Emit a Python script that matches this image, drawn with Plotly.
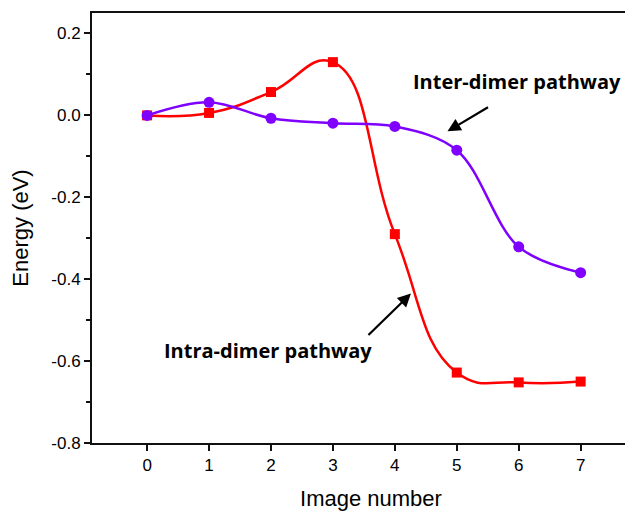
import plotly.graph_objects as go

images = [0, 1, 2, 3, 4, 5, 6, 7]
intra_dimer = [0.0, 0.006, 0.057, 0.130, -0.290, -0.628, -0.652, -0.650]
inter_dimer = [0.0, 0.032, -0.007, -0.019, -0.027, -0.085, -0.321, -0.384]
x_ticks = [0, 1, 2, 3, 4, 5, 6, 7]
y_ticks = [-0.8, -0.6, -0.4, -0.2, 0.0, 0.2]
y_tick_labels = ["-0.8", "-0.6", "-0.4", "-0.2", "0.0", "0.2"]

RED = "#FF0000"
PURPLE = "#7F00FF"
FAM = "Arial, 'Liberation Sans', sans-serif"

fig = go.Figure()
fig.add_trace(go.Scatter(
    x=images, y=intra_dimer, mode="lines+markers",
    line=dict(color=RED, width=2.5, shape="spline", smoothing=1.3),
    marker=dict(symbol="square", size=10, color=RED),
    name="Intra-dimer pathway", showlegend=False))
fig.add_trace(go.Scatter(
    x=images, y=inter_dimer, mode="lines+markers",
    line=dict(color=PURPLE, width=2.5, shape="spline", smoothing=1.0),
    marker=dict(symbol="circle", size=11, color=PURPLE),
    name="Inter-dimer pathway", showlegend=False))

ann_font = dict(family="'Open Sans', sans-serif", size=20, color="black")
fig.add_annotation(x=5.97, y=0.082, text="<b>Inter-dimer pathway</b>", showarrow=False, font=ann_font)
fig.add_annotation(x=1.95, y=-0.574, text="<b>Intra-dimer pathway</b>", showarrow=False, font=ann_font)
fig.add_annotation(x=4.85, y=-0.039, ax=42, ay=-25, text="", showarrow=True,
                   arrowhead=2, arrowsize=1.2, arrowwidth=2.2, arrowcolor="black")
fig.add_annotation(x=4.26, y=-0.435, ax=-44, ay=43, text="", showarrow=True,
                   arrowhead=2, arrowsize=1.2, arrowwidth=2.2, arrowcolor="black")

tick_font = dict(family=FAM, size=17, color="black")
title_font = dict(family=FAM, size=22, color="black")
fig.update_layout(
    width=650, height=511,
    margin=dict(l=84, r=8, t=3, b=76),
    paper_bgcolor="white", plot_bgcolor="white",
    font=tick_font,
    xaxis=dict(range=[-0.89, 8.12], tickvals=x_ticks, ticks="outside", ticklen=6, tickwidth=2,
               tickcolor="#111", showline=True, linecolor="#111", linewidth=2, mirror=True,
               showgrid=False, zeroline=False, tickfont=tick_font,
               title=dict(text="Image number", font=title_font, standoff=16)),
    yaxis=dict(range=[-0.8, 0.25], tickvals=y_ticks, ticktext=y_tick_labels, ticks="outside", ticklen=6,
               tickwidth=2, tickcolor="#111", showline=True, linecolor="#111", linewidth=2,
               showgrid=False, zeroline=False, tickfont=tick_font,
               minor=dict(dtick=0.1, ticks="outside", ticklen=4, tickwidth=2, tickcolor="#111"),
               title=dict(text="Energy (eV)", font=title_font, standoff=18)),
)

fig.write_html("out.html")
